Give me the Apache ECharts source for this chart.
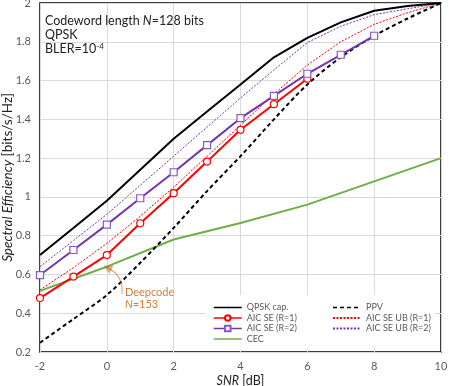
<!DOCTYPE html>
<html>
<head>
<meta charset="utf-8">
<script src="https://cdn.jsdelivr.net/npm/echarts@6/dist/echarts.min.js"></script>
<style>
  html, body { margin: 0; padding: 0; background: #fff; }
  #chart { width: 449px; height: 386px; }
</style>
</head>
<body>
<div id="chart"></div>
<script>
// SNR grid (dB) shared by most curves
var snr = [-2, -1, 0, 1, 2, 3, 4, 5, 6, 7, 8, 9, 10]
var qpskCap = [0.70, 0.84, 0.98, 1.14, 1.30, 1.44, 1.58, 1.72, 1.82, 1.90, 1.96, 1.985, 2.0]
var ppv = [0.248, 0.37, 0.494, 0.66, 0.84, 1.03, 1.21, 1.40, 1.58, 1.72, 1.83, 1.92, 2.0]
var aicR1 = [0.478, 0.589, 0.70, 0.864, 1.019, 1.182, 1.346, 1.478, 1.609]
var aicR2 = [0.597, 0.726, 0.857, 0.993, 1.127, 1.267, 1.406, 1.521, 1.635, 1.733, 1.831]
var ubR1 = [0.52, 0.635, 0.76, 0.90, 1.05, 1.21, 1.37, 1.53, 1.68, 1.80, 1.89, 1.95, 2.0]
var ubR2 = [0.64, 0.775, 0.91, 1.06, 1.21, 1.36, 1.51, 1.655, 1.796, 1.88, 1.94, 1.97, 2.0]
var cecSnr = [-2, 0, 2, 4, 6, 8, 10]
var cec = [0.515, 0.64, 0.78, 0.865, 0.96, 1.08, 1.20]
// Deepcode (N=153) annotation: arrow from label to point
var deepcodeArrow = [[0.45, 0.50], [0.02, 0.635]]
var deepcodeLabel = [0.54, 0.477]

var FONT = 'Lato'
var RED = '#ff0000'
var PURPLE = '#7434b0'
var ORANGE = '#c55a11'

function pairs(xs, ys) {
  return ys.map(function(y, i) { return [xs[i], y] })
}

var chart = echarts.init(document.getElementById('chart'), null, { renderer: 'canvas' })

var legendText = { fontFamily: FONT, fontSize: 9, color: '#595959' }
var noSymbol = { opacity: 0 }
var nameStyle = {
  fontFamily: FONT, fontSize: 12.5, color: '#222',
  rich: { i: { fontFamily: FONT, fontSize: 12.5, color: '#222', fontStyle: 'italic' } }
}
var yNameStyle = {
  fontFamily: FONT, fontSize: 13.5, color: '#222',
  rich: { i: { fontFamily: FONT, fontSize: 13.5, color: '#222', fontStyle: 'italic' } }
}

chart.setOption({
  animation: false,
  textStyle: { fontFamily: FONT },
  title: {
    left: 40,
    top: 9,
    text: '{a|Codeword length }{i|N}{a|=128 bits}\n{a|QPSK}\n{a|BLER=10}{s|-4}',
    textStyle: {
      fontWeight: 'normal',
      rich: {
        a: { fontFamily: FONT, fontSize: 12.5, fontWeight: 'normal', color: '#222', lineHeight: 14 },
        i: { fontFamily: FONT, fontSize: 12.5, fontWeight: 'normal', color: '#222', fontStyle: 'italic', lineHeight: 14 },
        s: { fontFamily: FONT, fontSize: 8, fontWeight: 'normal', color: '#222', verticalAlign: 'top', lineHeight: 14 }
      }
    }
  },
  grid: {
    left: 40,
    right: 8,
    top: 3,
    bottom: 34,
    outerBoundsMode: 'none',
    show: true,
    borderColor: '#000',
    borderWidth: 1.5
  },
  graphic: [{
    type: 'rect',
    shape: { x: 205, y: 295, width: 230, height: 55 },
    style: { fill: '#fff' },
    z: 3
  }],
  legend: [{
    orient: 'vertical',
    left: 208,
    top: 298,
    itemWidth: 28,
    itemHeight: 7,
    itemGap: 1.5,
    textStyle: legendText,
    data: [
      { name: 'QPSK cap.', itemStyle: noSymbol, lineStyle: { width: 1.5 } },
      { name: 'AIC SE (R=1)', lineStyle: { width: 1.5 } },
      { name: 'AIC SE (R=2)', lineStyle: { width: 1.5 } },
      { name: 'CEC', itemStyle: noSymbol, lineStyle: { width: 1.5 } }
    ]
  }, {
    orient: 'vertical',
    left: 327,
    top: 298,
    itemWidth: 28,
    itemHeight: 7,
    itemGap: 1.5,
    textStyle: legendText,
    data: [
      { name: 'PPV', itemStyle: noSymbol, lineStyle: { width: 1.5 } },
      { name: 'AIC SE UB (R=1)', itemStyle: noSymbol },
      { name: 'AIC SE UB (R=2)', itemStyle: noSymbol }
    ]
  }],
  xAxis: {
    type: 'value',
    min: -2,
    max: 10,
    interval: 2,
    name: '{i|SNR} [dB]',
    nameLocation: 'middle',
    nameGap: 22,
    nameMoveOverlap: false,
    nameTextStyle: nameStyle,
    axisLine: { show: false },
    axisTick: { show: false },
    axisLabel: { color: '#595959', fontSize: 11, margin: 9 },
    splitLine: { lineStyle: { color: '#d9d9d9', width: 1 } }
  },
  yAxis: {
    type: 'value',
    min: 0.2,
    max: 2,
    interval: 0.2,
    name: '{i|Spectral Efficiency} [bits/s/Hz]',
    nameLocation: 'middle',
    nameGap: 25,
    nameMoveOverlap: false,
    nameTextStyle: yNameStyle,
    axisLine: { show: false },
    axisTick: { show: false },
    axisLabel: { color: '#595959', fontSize: 11, margin: 9 },
    splitLine: { lineStyle: { color: '#d9d9d9', width: 1 } }
  },
  series: [{
    name: 'QPSK cap.',
    type: 'line',
    symbol: 'none',
    z: 5,
    lineStyle: { color: '#000', width: 2 },
    itemStyle: { color: '#000' },
    data: pairs(snr, qpskCap)
  }, {
    name: 'PPV',
    type: 'line',
    symbol: 'none',
    smooth: 0.3,
    z: 5,
    lineStyle: { color: '#000', width: 2, type: [4, 3] },
    itemStyle: { color: '#000' },
    data: pairs(snr, ppv)
  }, {
    name: 'AIC SE UB (R=1)',
    type: 'line',
    symbol: 'none',
    z: 4,
    lineStyle: { color: RED, width: 1, type: [2, 1.5] },
    itemStyle: { color: RED },
    data: pairs(snr, ubR1)
  }, {
    name: 'AIC SE UB (R=2)',
    type: 'line',
    symbol: 'none',
    z: 4,
    lineStyle: { color: PURPLE, width: 1, type: [2, 1.5] },
    itemStyle: { color: PURPLE },
    data: pairs(snr, ubR2)
  }, {
    name: 'AIC SE (R=1)',
    type: 'line',
    symbol: 'circle',
    symbolSize: 7,
    z: 6,
    lineStyle: { color: RED, width: 2 },
    itemStyle: { color: '#fff', borderColor: RED, borderWidth: 1.2 },
    data: pairs(snr, aicR1)
  }, {
    name: 'AIC SE (R=2)',
    type: 'line',
    symbol: 'rect',
    symbolSize: 7,
    z: 6,
    lineStyle: { color: PURPLE, width: 2 },
    itemStyle: { color: '#fff', borderColor: '#8a58c4', borderWidth: 1.2 },
    data: pairs(snr, aicR2)
  }, {
    name: 'CEC',
    type: 'line',
    symbol: 'none',
    z: 4,
    lineStyle: { color: '#70ad47', width: 2 },
    itemStyle: { color: '#70ad47' },
    data: pairs(cecSnr, cec)
  }, {
    name: 'Deepcode',
    type: 'lines',
    coordinateSystem: 'cartesian2d',
    z: 7,
    symbol: ['none', 'triangle'],
    symbolSize: 9,
    lineStyle: { color: ORANGE, width: 1.3, curveness: -0.35 },
    data: [{ coords: deepcodeArrow }]
  }, {
    name: 'DeepcodeLabel',
    type: 'scatter',
    symbolSize: 0,
    z: 7,
    label: {
      show: true,
      position: 'right',
      distance: 0,
      formatter: '{a|Deepcode}\n{i|N}{a|=153}',
      rich: {
        a: { fontFamily: FONT, fontSize: 11, color: ORANGE, lineHeight: 12 },
        i: { fontFamily: FONT, fontSize: 11, color: ORANGE, fontStyle: 'italic', lineHeight: 12 }
      }
    },
    data: [deepcodeLabel]
  }]
})
</script>
</body>
</html>
